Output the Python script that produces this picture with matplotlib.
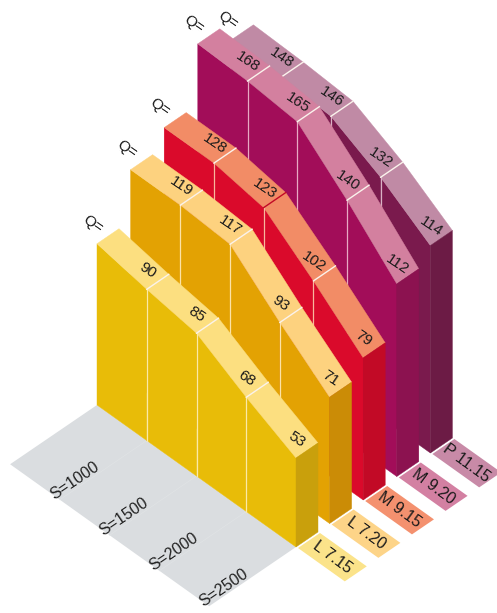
import matplotlib
matplotlib.use("Agg")
from matplotlib import pyplot as plt
from matplotlib.patches import Polygon

plt.rcParams["font.family"] = ["Liberation Sans", "DejaVu Sans"]

series_tags = ["L 7.15", "L 7.20", "M 9.15", "M 9.20", "P 11.15"]
s_labels = ["S=1000", "S=1500", "S=2000", "S=2500"]

values_l715 = [90, 85, 68, 53]
values_l720 = [119, 117, 93, 71]
values_m915 = [128, 123, 102, 79]
values_m920 = [168, 165, 140, 112]
values_p1115 = [148, 146, 132, 114]
all_values = [values_l715, values_l720, values_m915, values_m920, values_p1115]

# height of each wall where it starts, left of the first S column
start_values = [96, 119, 128, 169, 149]

front_colors = ["#E8BC08", "#E3A203", "#DA0A2B", "#A20D59", "#7A1A4D"]
side_colors = ["#C9A00C", "#CB8C06", "#C20A26", "#8C1250", "#6C1B45"]
top_colors = ["#FCDF80", "#FDD27F", "#F28C66", "#D3809F", "#C08AA5"]
edge_colors = ["#FBE9A6", "#FCE2A8", "#F8B79C", "#E8A9C3", "#D9B1C4"]
tag_colors = ["#FBE38A", "#FDD488", "#F4916F", "#D380A2", "#C88AA7"]

ORIGIN = (97.0, 405.0)
S_STEP = (49.75, 35.5)
ROW_STEP = (33.6, -23.5)
DEPTH = (22.0, -15.0)
# pixels per unit of value, wall by wall
WALL_SCALE = [1.68, 1.78, 1.80, 1.72, 1.82]


def project(s, row, height=0.0, depth=0.0):
    x = ORIGIN[0] + s * S_STEP[0] + row * ROW_STEP[0] + depth * DEPTH[0]
    y = ORIGIN[1] + s * S_STEP[1] + row * ROW_STEP[1] + depth * DEPTH[1]
    return x, y - height * WALL_SCALE[row]


def draw_floor(ax):
    corners = [project(0, 0), project(4, 0), project(4, 0, depth=-3.95), project(0, 0, depth=-3.95)]
    ax.add_patch(Polygon(corners, closed=True, fc="#DADDE0", ec="none", zorder=1))
    for s in range(1, 4):
        a = project(s, 0)
        b = project(s, 0, depth=-3.95)
        ax.plot([a[0], b[0]], [a[1], b[1]], color="#E0E3E5", lw=0.5, zorder=1.5)
    for s, label in enumerate(s_labels):
        x, y = project(s + 0.87, 0, depth=-3)
        ax.text(x, y, label, rotation=34, fontsize=11.5, color="#222222",
                ha="center", va="center", rotation_mode="anchor", zorder=2)


def draw_wall(ax, row, z):
    heights = [start_values[row]] + all_values[row]
    for i in range(4):
        h0, h1 = heights[i], heights[i + 1]
        front = [project(i, row), project(i + 1, row), project(i + 1, row, h1), project(i, row, h0)]
        ax.add_patch(Polygon(front, closed=True, fc=front_colors[row], ec=front_colors[row], lw=0.3, zorder=z))
        top = [project(i, row, h0), project(i + 1, row, h1),
               project(i + 1, row, h1, 1), project(i, row, h0, 1)]
        ax.add_patch(Polygon(top, closed=True, fc=top_colors[row], ec=top_colors[row], lw=0.3, zorder=z + 0.1))

    # closing face on the right end of the wall
    end = heights[-1]
    side = [project(4, row), project(4, row, depth=1), project(4, row, end, 1), project(4, row, end)]
    ax.add_patch(Polygon(side, closed=True, fc=side_colors[row], ec=side_colors[row], lw=0.3, zorder=z + 0.1))

    # thin lines at the column joins, and the value label above each one
    for i in range(1, 5):
        h = heights[i]
        bottom = project(i, row)
        corner = project(i, row, h)
        back = project(i, row, h, 1)
        if i < 4:
            ax.plot([bottom[0], corner[0]], [bottom[1], corner[1]], color=edge_colors[row], lw=0.9, zorder=z + 0.2)
            # the join under 123 is drawn dark on the top band, the rest pale
            band_color = side_colors[row] if (row, i) == (2, 2) else "#FBF3EC"
            ax.plot([corner[0], back[0]], [corner[1], back[1]], color=band_color, lw=1.0, zorder=z + 0.2)
        ax.text(corner[0] + 0.5, corner[1] - 19, str(h), rotation=-34, fontsize=11, color="#1A1A1A",
                ha="center", va="center", rotation_mode="anchor", zorder=z + 0.3)

    # Q= sits just off the back left corner
    qx, qy = project(0, row, heights[0])
    ax.text(qx - 4, qy - 20, "Q=", rotation=-35, fontsize=11, color="#1A1A1A",
            ha="center", va="center", rotation_mode="anchor", zorder=z + 0.3)


def draw_tag(ax, row):
    x0, y0 = project(4, row)
    step = (S_STEP[0] * 0.94, S_STEP[1] * 0.94)
    corners = [(x0 + 2, y0 + 1), (x0 + DEPTH[0] + 2, y0 + DEPTH[1] + 1),
               (x0 + DEPTH[0] + 2 + step[0], y0 + DEPTH[1] + 1 + step[1]),
               (x0 + 2 + step[0], y0 + 1 + step[1])]
    ax.add_patch(Polygon(corners, closed=True, fc=tag_colors[row], ec="none", zorder=1))
    cx = sum(c[0] for c in corners) / 4
    cy = sum(c[1] for c in corners) / 4
    ax.text(cx, cy, series_tags[row], rotation=-36, fontsize=11.5, color="#1A1A1A",
            ha="center", va="center", rotation_mode="anchor", zorder=2)


def main():
    fig = plt.figure(figsize=(4.97, 6.13), dpi=100)
    ax = fig.add_axes([0, 0, 1, 1])
    ax.set_xlim(0, 497)
    ax.set_ylim(613, 0)
    ax.axis("off")

    draw_floor(ax)
    for row in range(len(all_values)):
        draw_tag(ax, row)
    # back row gets the lowest zorder so the nearer walls cover it
    for row in range(len(all_values) - 1, -1, -1):
        draw_wall(ax, row, 10 + (4 - row) * 2)

    fig.savefig("out.png", dpi=100)


if __name__ == "__main__":
    main()
